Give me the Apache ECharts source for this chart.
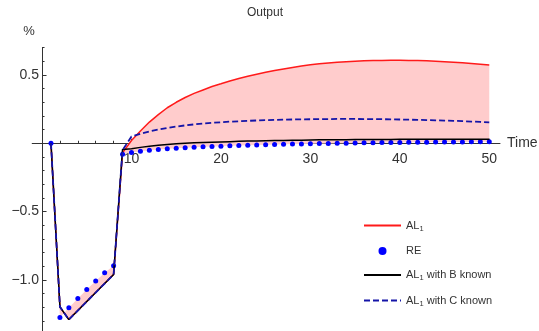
<!DOCTYPE html>
<html><head><meta charset="utf-8">
<script src="https://cdn.jsdelivr.net/npm/echarts@6/dist/echarts.min.js"></script>
<style>html,body{margin:0;padding:0;background:#fff}#c{width:539px;height:331px}</style>
</head><body><div id="c"></div>
<script>
const times = [1,2,3,4,5,6,7,8,9,10,11,12,13,14,15,16,17,18,19,20,21,22,23,24,25,26,27,28,29,30,31,32,33,34,35,36,37,38,39,40,41,42,43,44,45,46,47,48,49,50];
const al1 = [0,-1.197,-1.29,-1.224,-1.158,-1.092,-1.026,-0.96,-0.07,0.02,0.09,0.155,0.21,0.26,0.30,0.335,0.365,0.39,0.415,0.435,0.456,0.474,0.49,0.505,0.519,0.532,0.544,0.555,0.565,0.574,0.581,0.588,0.593,0.597,0.6,0.603,0.605,0.606,0.607,0.607,0.606,0.605,0.603,0.6,0.597,0.593,0.589,0.584,0.579,0.573];
const re = [0,-1.275,-1.204,-1.135,-1.07,-1.007,-0.948,-0.896,-0.08,-0.068,-0.058,-0.051,-0.045,-0.04,-0.036,-0.032,-0.029,-0.026,-0.023,-0.021,-0.019,-0.017,-0.015,-0.013,-0.011,-0.009,-0.008,-0.006,-0.005,-0.003,-0.002,-0.001,0.0,0.001,0.002,0.003,0.004,0.005,0.006,0.006,0.007,0.008,0.008,0.009,0.009,0.01,0.01,0.011,0.011,0.012];
const bKnown = [0,-1.197,-1.29,-1.224,-1.158,-1.092,-1.026,-0.96,-0.045,-0.04,-0.03,-0.022,-0.015,-0.009,-0.004,0.0,0.003,0.006,0.008,0.01,0.012,0.014,0.016,0.017,0.019,0.02,0.021,0.022,0.023,0.024,0.025,0.025,0.026,0.026,0.027,0.027,0.028,0.028,0.028,0.029,0.029,0.029,0.03,0.03,0.03,0.03,0.03,0.03,0.03,0.03];
const cKnown = [0,-1.197,-1.29,-1.224,-1.158,-1.092,-1.026,-0.96,-0.05,0.05,0.07,0.087,0.1,0.112,0.122,0.131,0.138,0.145,0.15,0.154,0.158,0.161,0.164,0.167,0.169,0.171,0.173,0.174,0.175,0.176,0.177,0.177,0.178,0.178,0.178,0.177,0.177,0.176,0.175,0.174,0.173,0.171,0.17,0.168,0.166,0.164,0.162,0.159,0.156,0.153];

const xMajorTicks = [10,20,30,40,50];
const xMinorTicks = [2,4,6,8,12,14,16,18,22,24,26,28,32,34,36,38,42,44,46,48];
const yMajorTicks = [-1.0,-0.5,0,0.5];
const yLabels = [-1.0,-0.5,0.5];
const yMinorTicks = [-1.3,-1.2,-1.1,-0.9,-0.8,-0.7,-0.6,-0.4,-0.3,-0.2,-0.1,0.1,0.2,0.3,0.4,0.6,0.7];

const seriesNames = ['AL1','RE','AL1 with B known','AL1 with C known'];
const legendLabels = {
  'AL1': '{n|AL}{s|1}',
  'RE': '{n|RE}',
  'AL1 with B known': '{n|AL}{s|1}{n| with B known}',
  'AL1 with C known': '{n|AL}{s|1}{n| with C known}'
};

const FONT = "'Liberation Sans', Arial, sans-serif";
const TXT = '#333';
const pairs = arr => times.map((t, i) => [t, arr[i]]);
const fmtNum = v => (v < 0 ? '\u2212' : '') + Math.abs(v).toFixed(1);

const X = {min: -1.1, max: 51.2};
const Y = {min: -1.5, max: 0.7};
const G = {left: 32.2, top: 47.6, width: 467.8, height: 300.7};
// axes cross at (0,0): shift axes from the grid edges to the zero lines
const xAxisOffset = -((0 - Y.min) / (Y.max - Y.min)) * G.height;
const yAxisOffset = -((0 - X.min) / (X.max - X.min)) * G.width;

function renderFill(params, api) {
  const pts = [];
  for (let i = 0; i < times.length; i++) pts.push(api.coord([times[i], al1[i]]));
  for (let i = times.length - 1; i >= 0; i--) pts.push(api.coord([times[i], re[i]]));
  return {
    type: 'polygon',
    shape: {points: pts},
    style: {fill: '#ffcccc', stroke: null},
    silent: true
  };
}

const chart = echarts.init(document.getElementById('c'), null, {renderer: 'canvas'});
chart.setOption({
  animation: false,
  backgroundColor: '#fff',
  textStyle: {fontFamily: FONT},
  title: {
    text: 'Output', left: 242, top: 2,
    textStyle: {fontSize: 12, fontWeight: 'normal', color: TXT, fontFamily: FONT}
  },
  grid: {left: G.left, top: G.top, width: G.width, height: G.height, containLabel: false, outerBoundsMode: 'none'},
  legend: {
    orient: 'vertical', left: 358, top: 215,
    itemWidth: 37, itemHeight: 8, itemGap: 13,
    data: [
      {name: 'AL1', itemStyle: {opacity: 0}},
      {name: 'RE'},
      {name: 'AL1 with B known', itemStyle: {opacity: 0}},
      {name: 'AL1 with C known', itemStyle: {opacity: 0}}
    ],
    selectedMode: false,
    formatter: name => legendLabels[name],
    textStyle: {
      color: TXT, fontFamily: FONT, fontSize: 11,
      rich: {
        n: {fontSize: 11, color: TXT, fontFamily: FONT, lineHeight: 14},
        s: {fontSize: 7.5, color: TXT, fontFamily: FONT, lineHeight: 9, verticalAlign: 'bottom'}
      }
    }
  },
  xAxis: [{
    type: 'value', min: X.min, max: X.max, position: 'bottom', offset: xAxisOffset,
    axisLine: {show: true, onZero: false, lineStyle: {color: TXT, width: 1}},
    axisTick: {show: true, inside: true, length: 4.5, customValues: xMajorTicks, lineStyle: {color: TXT}},
    axisLabel: {show: true, customValues: xMajorTicks, fontSize: 14, color: TXT, margin: 9, fontFamily: FONT},
    splitLine: {show: false},
    name: 'Time', nameLocation: 'end', nameGap: 7,
    nameTextStyle: {fontSize: 14, color: TXT, fontFamily: FONT}
  }, {
    type: 'value', min: X.min, max: X.max, position: 'bottom', offset: xAxisOffset,
    axisLine: {show: false, onZero: false},
    axisTick: {show: true, inside: true, length: 2.5, customValues: xMinorTicks, lineStyle: {color: TXT}},
    axisLabel: {show: false},
    splitLine: {show: false}
  }],
  yAxis: [{
    type: 'value', min: Y.min, max: Y.max, position: 'left', offset: yAxisOffset,
    axisLine: {show: true, onZero: false, lineStyle: {color: TXT, width: 1}},
    axisTick: {show: true, inside: true, length: 4.5, customValues: yMajorTicks, lineStyle: {color: TXT}},
    axisLabel: {show: true, customValues: yLabels, fontSize: 14, color: TXT, margin: 3, fontFamily: FONT, formatter: fmtNum},
    splitLine: {show: false},
    name: '%', nameLocation: 'end', nameGap: 10,
    nameTextStyle: {fontSize: 13, color: TXT, fontFamily: FONT, padding: [0, 26, 0, 0]}
  }, {
    type: 'value', min: Y.min, max: Y.max, position: 'left', offset: yAxisOffset,
    axisLine: {show: false, onZero: false},
    axisTick: {show: true, inside: true, length: 2.5, customValues: yMinorTicks, lineStyle: {color: TXT}},
    axisLabel: {show: false},
    splitLine: {show: false}
  }],
  series: [
    {
      name: '_fill', type: 'custom', renderItem: renderFill, data: [[0, 0]],
      clip: true, silent: true, z: 1, encode: {x: 0, y: 1}
    },
    {
      name: 'AL1', type: 'line', data: pairs(al1), symbol: 'none',
      lineStyle: {color: '#ff1a1a', width: 1.5}, itemStyle: {color: '#ff1a1a'}, z: 2
    },
    {
      name: 'RE', type: 'scatter', data: pairs(re), symbol: 'circle', symbolSize: 5,
      itemStyle: {color: '#0000ff', opacity: 1}, z: 3
    },
    {
      name: 'AL1 with B known', type: 'line', data: pairs(bKnown), symbol: 'none',
      lineStyle: {color: '#000', width: 1.5}, itemStyle: {color: '#000'}, z: 4
    },
    {
      name: 'AL1 with C known', type: 'line', data: pairs(cKnown), symbol: 'none',
      lineStyle: {color: '#1414a8', width: 1.8, type: [6, 3]}, itemStyle: {color: '#1414a8'}, z: 5
    }
  ]
});
</script></body></html>
